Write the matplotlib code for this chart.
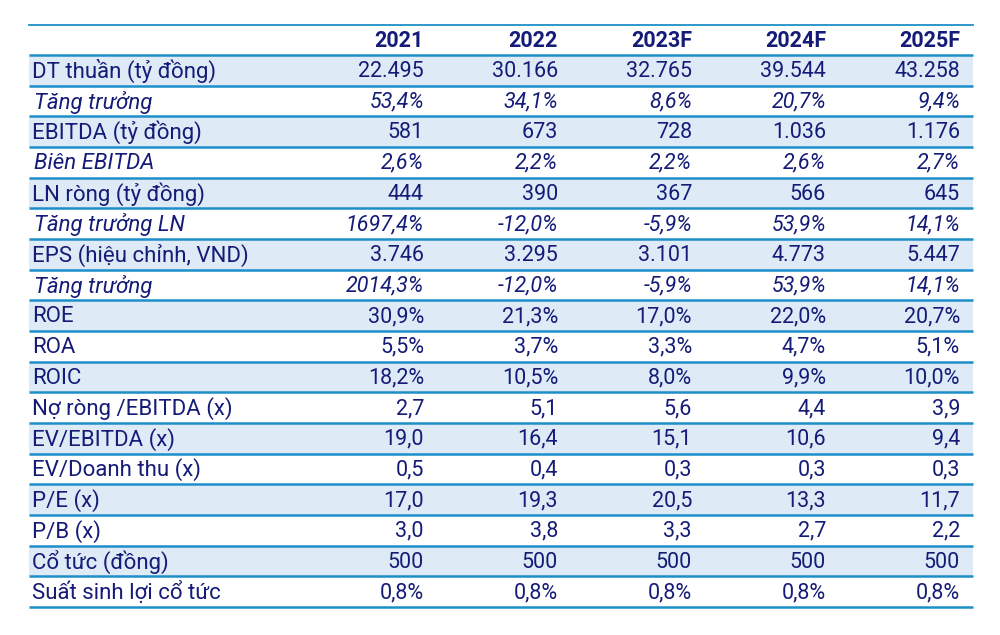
import matplotlib.pyplot as plt
from matplotlib.patches import Rectangle

# table content
years = ['2021', '2022', '2023F', '2024F', '2025F']
labels = ['DT thuần (tỷ đồng)', 'Tăng trưởng', 'EBITDA (tỷ đồng)', 'Biên EBITDA',
          'LN ròng (tỷ đồng)', 'Tăng trưởng LN', 'EPS (hiệu chỉnh, VND)', 'Tăng trưởng',
          'ROE', 'ROA', 'ROIC', 'Nợ ròng /EBITDA (x)', 'EV/EBITDA (x)',
          'EV/Doanh thu (x)', 'P/E (x)', 'P/B (x)', 'Cổ tức (đồng)', 'Suất sinh lợi cổ tức']
italic_rows = [1, 3, 5, 7]

v2021 = ['22.495', '53,4%', '581', '2,6%', '444', '1697,4%', '3.746', '2014,3%', '30,9%',
         '5,5%', '18,2%', '2,7', '19,0', '0,5', '17,0', '3,0', '500', '0,8%']
v2022 = ['30.166', '34,1%', '673', '2,2%', '390', '-12,0%', '3.295', '-12,0%', '21,3%',
         '3,7%', '10,5%', '5,1', '16,4', '0,4', '19,3', '3,8', '500', '0,8%']
v2023 = ['32.765', '8,6%', '728', '2,2%', '367', '-5,9%', '3.101', '-5,9%', '17,0%',
         '3,3%', '8,0%', '5,6', '15,1', '0,3', '20,5', '3,3', '500', '0,8%']
v2024 = ['39.544', '20,7%', '1.036', '2,6%', '566', '53,9%', '4.773', '53,9%', '22,0%',
         '4,7%', '9,9%', '4,4', '10,6', '0,3', '13,3', '2,7', '500', '0,8%']
v2025 = ['43.258', '9,4%', '1.176', '2,7%', '645', '14,1%', '5.447', '14,1%', '20,7%',
         '5,1%', '10,0%', '3,9', '9,4', '0,3', '11,7', '2,2', '500', '0,8%']
columns = [v2021, v2022, v2023, v2024, v2025]

txt = '#141c78'
line = '#1c8fc9'
fill = '#deebf7'
plt.rcParams['font.family'] = ['Roboto', 'DejaVu Sans']

fig = plt.figure(figsize=(10, 6.35), dpi=100)
ax = fig.add_axes([0, 0, 1, 1])
ax.set_xlim(0, 1000)
ax.set_ylim(635, 0)
ax.axis('off')

x0, x1 = 29, 973
top = 25
head_bot = 55
rh = (607 - 55) / len(labels)
col_right = [424, 558, 692, 826, 960]
fs = 16
fs_num = 15.5

# header
ax.plot([x0, x1], [top, top], color=line, lw=1.3)
for x, y in zip(col_right, years):
    ax.text(x, (top + head_bot) / 2 + 1, y, ha='right', va='center', fontsize=fs_num,
            fontweight='bold', color=txt)

for i, lab in enumerate(labels):
    y_top = head_bot + i * rh
    if i % 2 == 0:
        ax.add_patch(Rectangle((x0, y_top), x1 - x0, rh, color=fill, lw=0, zorder=0))
    style = 'italic' if i in italic_rows else 'normal'
    yc = y_top + rh / 2 + 1
    ax.text(32 if style == 'normal' else 34, yc, lab, ha='left', va='center',
            fontsize=fs, style=style, color=txt)
    for x, col in zip(col_right, columns):
        ax.text(x, yc, col[i], ha='right', va='center', fontsize=fs_num, style=style, color=txt)

for i in range(len(labels) + 1):
    y = head_bot + i * rh
    ax.plot([x0, x1], [y, y], color=line, lw=1.8, solid_capstyle='butt')

fig.savefig('out.png', dpi=100)
